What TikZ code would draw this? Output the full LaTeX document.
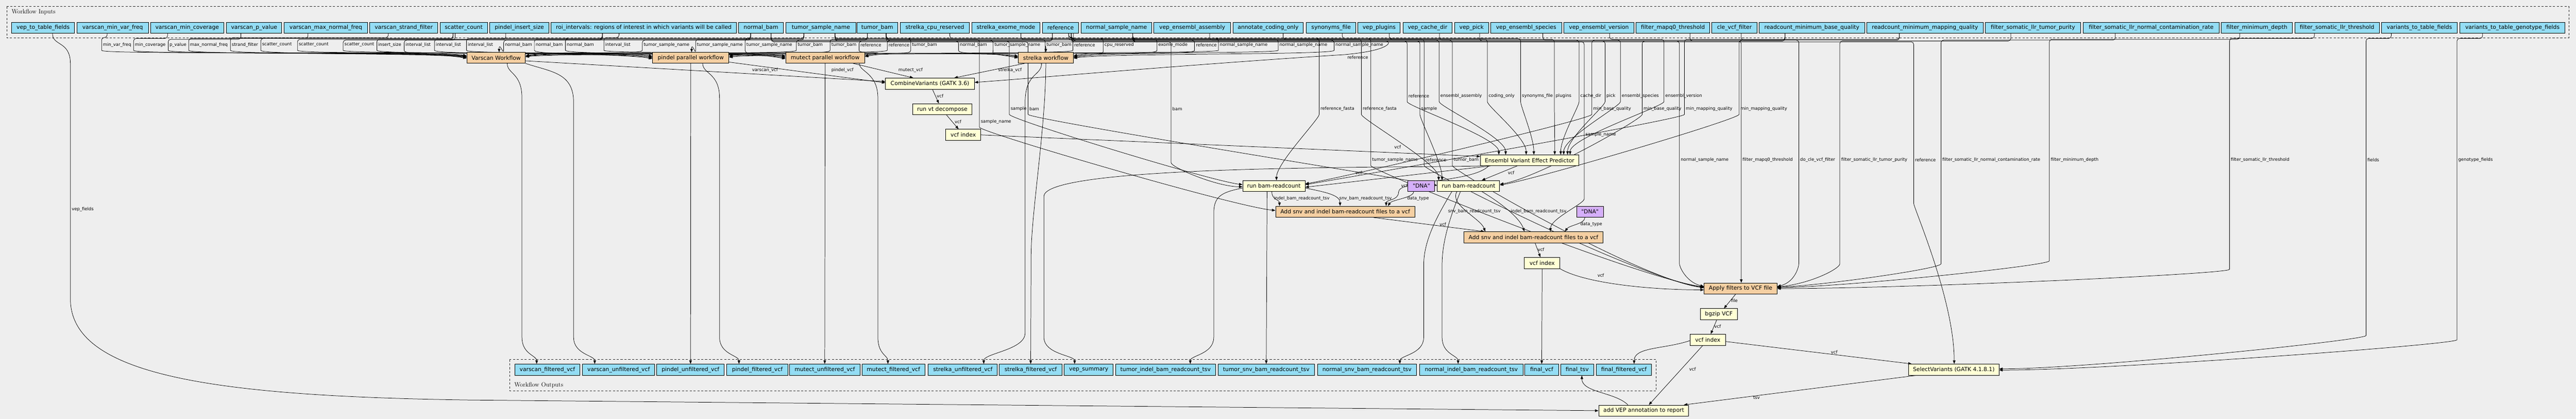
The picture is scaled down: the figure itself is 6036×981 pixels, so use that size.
\documentclass[tikz,border=0pt]{standalone}
\usepackage{fontspec}
\usetikzlibrary{arrows.meta}
\newfontfamily\dvs{DejaVu Sans}
\newcommand\nodefont{\dvs\fontsize{13}{15}\selectfont}
\newcommand\elabfont{\dvs\fontsize{10.2}{12}\selectfont}
\newcommand\clfont{\rmfamily\fontsize{14.5}{17}\selectfont}
\definecolor{bgc}{RGB}{238,238,238}
\definecolor{inc}{RGB}{148,221,245}
\definecolor{subc}{RGB}{245,207,162}
\definecolor{toolc}{RGB}{255,255,213}
\definecolor{dnac}{RGB}{213,175,250}
\pgfdeclarelayer{bg}\pgfdeclarelayer{edges}\pgfsetlayers{bg,edges,main}
\tikzset{
  box/.style={draw=black, line width=1.2pt, inner sep=0pt, font=\nodefont, anchor=center},
  inp/.style={box, fill=inc},
  sub/.style={box, fill=subc},
  tool/.style={box, fill=toolc},
  dna/.style={box, fill=dnac},
  elab/.style={anchor=west, inner sep=0pt, font=\elabfont},
  conn/.style={draw=black, line width=0.9pt, -{Triangle[length=8pt,width=6pt]}},
  clus/.style={draw=black!85, line width=1.1pt, dash pattern=on 5pt off 4pt},
}
\newcommand\mkbox[7]{\node[#1, minimum width={(#4-#3)*1pt}, minimum height={(#6-#5)*1pt}] (#2) at ({(#3+#4)/2},{(#5+#6)/2}) {#7};}
\newcommand\inedgeV[9]{%
\begin{pgfonlayer}{edges}
\draw[conn] ([xshift=#2pt]#1.south) [rounded corners=6pt] |- (#4,#3) -- (#4,#9) [sharp corners] .. controls (#4,#9+17) and +(#8) .. (#7);
\end{pgfonlayer}
\node[elab] at (#4+3,#5) {#6};}
\newcommand\inedge[8]{\inedgeV{#1}{#2}{#3}{#4}{#5}{#6}{#7}{#8}{#5+7}}
\begin{document}
\begin{tikzpicture}[x=1pt,y=-1pt]
\useasboundingbox (0,0) rectangle (6036,981);
\begin{pgfonlayer}{bg}
\fill[bgc] (0,0) rectangle (6036,981);
\draw[clus] (16,15) rectangle (6019,89);
\draw[clus] (1195,842) rectangle (3881,916);
\end{pgfonlayer}
\node[anchor=west, inner sep=0pt, font=\clfont] (cin) at (27,28) {Workflow Inputs};
\node[anchor=west, inner sep=0pt, font=\clfont] (cout) at (1205,902) {Workflow Outputs};
% inputs
\mkbox{inp}{in1}{27}{175}{52}{78}{vep\_to\_table\_fields}
\mkbox{inp}{in2}{180}{348}{52}{78}{varscan\_min\_var\_freq}
\mkbox{inp}{in3}{353}{524}{52}{78}{varscan\_min\_coverage}
\mkbox{inp}{in4}{531}{660}{52}{78}{varscan\_p\_value}
\mkbox{inp}{in5}{666}{861}{52}{78}{varscan\_max\_normal\_freq}
\mkbox{inp}{in6}{866}{1026}{52}{78}{varscan\_strand\_filter}
\mkbox{inp}{in7}{1031}{1142}{52}{78}{scatter\_count}
\mkbox{inp}{in8}{1148}{1286}{52}{78}{pindel\_insert\_size}
\mkbox{inp}{in9}{1291}{1726}{52}{78}{roi\_intervals: regions of interest in which variants will be called}
\mkbox{inp}{in10}{1731}{1835}{52}{78}{normal\_bam}
\mkbox{inp}{in11}{1841}{2006}{52}{78}{tumor\_sample\_name}
\mkbox{inp}{in12}{2008}{2103}{52}{78}{tumor\_bam}
\mkbox{inp}{in13}{2110}{2271}{52}{78}{strelka\_cpu\_reserved}
\mkbox{inp}{in14}{2277}{2437}{52}{78}{strelka\_exome\_mode}
\mkbox{inp}{in15}{2443}{2527}{52}{78}{reference}
\mkbox{inp}{in16}{2533}{2699}{52}{78}{normal\_sample\_name}
\mkbox{inp}{in17}{2704}{2883}{52}{78}{vep\_ensembl\_assembly}
\mkbox{inp}{in18}{2889}{3054}{52}{78}{annotate\_coding\_only}
\mkbox{inp}{in19}{3061}{3177}{52}{78}{synonyms\_file}
\mkbox{inp}{in20}{3182}{3281}{52}{78}{vep\_plugins}
\mkbox{inp}{in21}{3288}{3402}{52}{78}{vep\_cache\_dir}
\mkbox{inp}{in22}{3408}{3488}{52}{78}{vep\_pick}
\mkbox{inp}{in23}{3493}{3659}{52}{78}{vep\_ensembl\_species}
\mkbox{inp}{in24}{3665}{3828}{52}{78}{vep\_ensembl\_version}
\mkbox{inp}{in25}{3834}{4006}{52}{78}{filter\_mapq0\_threshold}
\mkbox{inp}{in26}{4011}{4117}{52}{78}{cle\_vcf\_filter}
\mkbox{inp}{in27}{4122}{4369}{52}{78}{readcount\_minimum\_base\_quality}
\mkbox{inp}{in28}{4374}{4647}{52}{78}{readcount\_minimum\_mapping\_quality}
\mkbox{inp}{in29}{4652}{4875}{52}{78}{filter\_somatic\_llr\_tumor\_purity}
\mkbox{inp}{in30}{4881}{5200}{52}{78}{filter\_somatic\_llr\_normal\_contamination\_rate}
\mkbox{inp}{in31}{5205}{5371}{52}{78}{filter\_minimum\_depth}
\mkbox{inp}{in32}{5377}{5575}{52}{78}{filter\_somatic\_llr\_threshold}
\mkbox{inp}{in33}{5580}{5758}{52}{78}{variants\_to\_table\_fields}
\mkbox{inp}{in34}{5764}{6010}{52}{78}{variants\_to\_table\_genotype\_fields}
% steps
\mkbox{sub}{vs}{1094}{1231}{123}{148}{Varscan Workflow}
\mkbox{sub}{pi}{1529}{1708}{123}{148}{pindel parallel workflow}
\mkbox{sub}{mu}{1841}{2026}{123}{148}{mutect parallel workflow}
\mkbox{sub}{st}{2386}{2515}{123}{148}{strelka workflow}
\mkbox{tool}{cb}{2075}{2283}{183}{209}{CombineVariants (GATK 3.6)}
\mkbox{tool}{vt}{2139}{2277}{243}{269}{run vt decompose}
\mkbox{tool}{vi1}{2216}{2298}{303}{329}{vcf index}
\mkbox{tool}{vep}{3469}{3699}{363}{388}{Ensembl Variant Effect Predictor}
\mkbox{tool}{brc1}{2912}{3058}{423}{448}{run bam-readcount}
\mkbox{dna}{dna1}{3299}{3362}{423}{448}{"DNA"}
\mkbox{tool}{brc2}{3368}{3514}{423}{448}{run bam-readcount}
\mkbox{sub}{add1}{2989}{3315}{483}{509}{Add snv and indel bam-readcount files to a vcf}
\mkbox{dna}{dna2}{3694}{3757}{483}{509}{"DNA"}
\mkbox{sub}{add2}{3430}{3756}{543}{569}{Add snv and indel bam-readcount files to a vcf}
\mkbox{tool}{vi2}{3572}{3655}{603}{629}{vcf index}
\mkbox{sub}{ap}{3993}{4164}{663}{689}{Apply filters to VCF file}
\mkbox{tool}{bgz}{3984}{4071}{723}{749}{bgzip VCF}
\mkbox{tool}{vi3}{3960}{4043}{783}{809}{vcf index}
\mkbox{tool}{sel}{4472}{4684}{853}{879}{SelectVariants (GATK 4.1.8.1)}
\mkbox{tool}{av}{3746}{3957}{949}{975}{add VEP annotation to report}
% outputs
\mkbox{inp}{o1}{1206}{1359}{853}{879}{varscan\_filtered\_vcf}
\mkbox{inp}{o2}{1365}{1534}{853}{879}{varscan\_unfiltered\_vcf}
\mkbox{inp}{o3}{1539}{1697}{853}{879}{pindel\_unfiltered\_vcf}
\mkbox{inp}{o4}{1703}{1846}{853}{879}{pindel\_filtered\_vcf}
\mkbox{inp}{o5}{1850}{2015}{853}{879}{mutect\_unfiltered\_vcf}
\mkbox{inp}{o6}{2020}{2167}{853}{879}{mutect\_filtered\_vcf}
\mkbox{inp}{o7}{2175}{2337}{853}{879}{strelka\_unfiltered\_vcf}
\mkbox{inp}{o8}{2341}{2489}{853}{879}{strelka\_filtered\_vcf}
\mkbox{inp}{o9}{2494}{2608}{853}{879}{vep\_summary}
\mkbox{inp}{o10}{2614}{2848}{853}{879}{tumor\_indel\_bam\_readcount\_tsv}
\mkbox{inp}{o11}{2854}{3080}{853}{879}{tumor\_snv\_bam\_readcount\_tsv}
\mkbox{inp}{o12}{3087}{3319}{853}{879}{normal\_snv\_bam\_readcount\_tsv}
\mkbox{inp}{o13}{3326}{3569}{853}{879}{normal\_indel\_bam\_readcount\_tsv}
\mkbox{inp}{o14}{3573}{3652}{853}{879}{final\_vcf}
\mkbox{inp}{o15}{3657}{3734}{853}{879}{final\_tsv}
\mkbox{inp}{o16}{3740}{3870}{853}{879}{final\_filtered\_vcf}
% input edges to workflows
\inedge{in2}{-13}{88}{238}{105}{min\_var\_freq}{[yshift=5pt]vs.west}{-70,-12}
\inedge{in3}{-46}{90}{313}{105}{min\_coverage}{[yshift=4pt]vs.west}{-70,-12}
\inedge{in4}{-31}{92}{394}{105}{p\_value}{[yshift=3pt]vs.west}{-70,-12}
\inedge{in5}{-42}{90}{442}{105}{max\_normal\_freq}{[yshift=2pt]vs.west}{-70,-12}
\inedge{in6}{-36}{88}{540}{105}{strand\_filter}{[yshift=1pt]vs.west}{-70,-12}
\inedge{in7}{-25}{90}{611}{105}{scatter\_count}{[yshift=0pt]vs.west}{-70,-12}
\inedge{in7}{-25}{92}{697}{105}{scatter\_count}{[yshift=4pt]pi.west}{-70,-12}
\inedge{in7}{-20}{94}{804}{105}{scatter\_count}{[yshift=4pt]mu.west}{-70,-12}
\inedge{in8}{-32}{92}{883}{105}{insert\_size}{[yshift=2pt]pi.west}{-70,-12}
\inedge{in9}{-97}{94}{947}{105}{interval\_list}{[yshift=-1pt]vs.west}{-70,-12}
\inedge{in9}{-97}{92}{1018}{105}{interval\_list}{[yshift=0pt]pi.west}{-70,-12}
\inedge{in9}{-97}{90}{1093}{105}{interval\_list}{[yshift=2pt]mu.west}{-70,-12}
\inedge{in10}{-24}{94}{1180}{105}{normal\_bam}{[xshift=7pt]vs.north}{0,-25}
\inedge{in10}{-24}{92}{1252}{105}{normal\_bam}{[yshift=-2pt]pi.west}{-70,-12}
\inedge{in10}{-24}{90}{1325}{105}{normal\_bam}{[yshift=0pt]mu.west}{-70,-12}
\inedge{in9}{-58}{88}{1415}{105}{interval\_list}{[yshift=4pt]st.west}{-70,-12}
\inedge{in11}{-40}{94}{1505}{105}{tumor\_sample\_name}{[yshift=5pt]vs.east}{70,-12}
\inedge{in11}{-40}{92}{1630}{105}{tumor\_sample\_name}{[xshift=2pt]pi.north}{0,-25}
\inedge{in11}{-40}{90}{1746}{105}{tumor\_sample\_name}{[yshift=-2pt]mu.west}{-70,-12}
\inedge{in12}{-23}{94}{1866}{105}{tumor\_bam}{[yshift=4pt]vs.east}{70,-12}
\inedge{in12}{-23}{92}{1945}{105}{tumor\_bam}{[yshift=5pt]pi.east}{70,-12}
\inedge{in15}{-19}{96}{2013}{105}{reference}{[yshift=5pt]mu.east}{70,-12}
\inedge{in15}{-19}{94}{2079}{105}{reference}{[yshift=3pt]vs.east}{70,-12}
\inedge{in12}{21}{90}{2134}{105}{tumor\_bam}{[yshift=3pt]mu.east}{70,-12}
\inedge{in10}{24}{96}{2246}{105}{normal\_bam}{[yshift=2pt]st.west}{-70,-12}
\inedge{in11}{33}{94}{2327}{105}{tumor\_sample\_name}{[yshift=0pt]st.west}{-70,-12}
\inedge{in12}{21}{92}{2449}{105}{tumor\_bam}{st.north}{0,-25}
\inedge{in15}{19}{88}{2514}{105}{reference}{[yshift=3pt]pi.east}{70,-12}
\inedge{in13}{35}{90}{2585}{105}{cpu\_reserved}{[yshift=5pt]st.east}{70,-12}
\inedge{in14}{35}{92}{2711}{105}{exome\_mode}{[yshift=3pt]st.east}{70,-12}
\inedge{in15}{19}{94}{2799}{105}{reference}{[yshift=1pt]st.east}{70,-12}
\inedge{in16}{38}{90}{2855}{105}{normal\_sample\_name}{[yshift=2pt]vs.east}{70,-12}
\inedge{in16}{38}{92}{2995}{105}{normal\_sample\_name}{[yshift=1pt]pi.east}{70,-12}
\inedge{in16}{38}{94}{3126}{105}{normal\_sample\_name}{[yshift=-1pt]st.east}{70,-12}
% VEP inputs
\inedge{in15}{25}{96}{3297}{225}{reference}{[xshift=-72pt]vep.north}{0,-40}
\inedge{in17}{41}{94}{3372}{225}{ensembl\_assembly}{[xshift=-56pt]vep.north}{0,-40}
\inedge{in18}{35}{92}{3485}{225}{coding\_only}{[xshift=-8pt]vep.north}{0,-40}
\inedge{in19}{26}{90}{3563}{225}{synonyms\_file}{[xshift=10pt]vep.north}{0,-40}
\inedge{in20}{24}{92}{3642}{225}{plugins}{[xshift=59pt]vep.north}{0,-40}
\inedge{in21}{28}{94}{3700}{225}{cache\_dir}{[xshift=73pt]vep.north}{0,-40}
\inedge{in22}{19}{96}{3761}{225}{pick}{[xshift=89pt]vep.north}{0,-40}
\inedge{in23}{39}{94}{3797}{225}{ensembl\_species}{[xshift=80pt]vep.north}{0,-40}
\inedge{in24}{25}{92}{3899}{225}{ensembl\_version}{[xshift=95pt]vep.north}{0,-40}
% bam-readcount inputs
\inedgeV{in12}{21}{98}{2744}{255}{bam}{[yshift=-2pt]brc1.west}{-60,0}{375}
\inedge{in11}{33}{96}{2365}{255}{sample}{[yshift=3pt]brc1.west}{-80,-10}
\inedge{in10}{24}{98}{2409}{255}{bam}{[yshift=1pt]brc2.west}{-80,-15}
\inedge{in15}{25}{90}{3091}{255}{reference\_fasta}{[xshift=6pt]brc1.north}{0,-40}
\inedge{in15}{25}{92}{3190}{255}{reference\_fasta}{[xshift=-70pt]brc2.north}{0,-40}
\inedge{in16}{38}{96}{3327}{255}{sample}{[xshift=-62pt]brc2.north}{0,-40}
\inedge{in27}{-63}{94}{3730}{255}{min\_base\_quality}{[yshift=5pt]brc1.east}{90,-15}
\inedge{in27}{-63}{96}{3848}{255}{min\_base\_quality}{[yshift=4pt]brc2.east}{90,-15}
\inedge{in28}{-60}{92}{3947}{255}{min\_mapping\_quality}{[yshift=3pt]brc1.east}{90,-15}
\inedge{in28}{-60}{94}{4075}{255}{min\_mapping\_quality}{[yshift=2pt]brc2.east}{90,-15}
% sample names for add readcount
\inedge{in11}{33}{92}{2295}{285}{sample\_name}{[yshift=3pt]add1.west}{-100,-10}
\inedgeV{in16}{38}{98}{3712}{315}{sample\_name}{[xshift=40pt]add2.north}{0,-30}{460}
% filter inputs
\inedge{in11}{33}{90}{3212}{375}{tumor\_sample\_name}{[yshift=4pt]ap.west}{-150,-20}
\inedge{in15}{25}{92}{3337}{375}{reference}{[yshift=3pt]ap.west}{-150,-20}
\inedge{in12}{21}{94}{3403}{375}{tumor\_bam}{[yshift=2pt]ap.west}{-150,-20}
\inedgeV{in16}{38}{96}{3935}{375}{normal\_sample\_name}{[yshift=5pt]ap.west}{-40,-10}{610}
\inedge{in25}{40}{96}{4080}{375}{filter\_mapq0\_threshold}{[xshift=1.5pt]ap.north}{0,-40}
\inedgeV{in26}{16}{94}{4215}{375}{do\_cle\_vcf\_filter}{[yshift=5pt]ap.east}{40,-10}{610}
\inedgeV{in29}{-52}{96}{4311}{375}{filter\_somatic\_llr\_tumor\_purity}{[yshift=4pt]ap.east}{80,-8}{612}
\inedgeV{in15}{25}{98}{4484}{375}{reference}{[xshift=1pt]sel.north}{0,-150}{470}
\inedgeV{in30}{-84}{94}{4548}{375}{filter\_somatic\_llr\_normal\_contamination\_rate}{[yshift=3pt]ap.east}{120,-6}{612}
\inedgeV{in31}{-40}{92}{4802}{375}{filter\_minimum\_depth}{[yshift=2pt]ap.east}{180,-4}{605}
\inedgeV{in32}{-53}{90}{5224}{375}{filter\_somatic\_llr\_threshold}{[yshift=0pt]ap.east}{300,0}{625}
\inedgeV{in33}{-66}{90}{5544}{375}{fields}{[yshift=2pt]sel.east}{200,0}{780}
\inedgeV{in34}{-70}{90}{5757}{375}{genotype\_fields}{[yshift=-1pt]sel.east}{250,0}{790}
% internal edges
\begin{pgfonlayer}{edges}
\draw[conn] ([yshift=-7pt]vs.east) -- ([yshift=5pt]cb.west);
\draw[conn] ([yshift=-10pt]pi.east) -- ([yshift=2pt]cb.west);
\draw[conn] ([xshift=66pt]mu.south) -- ([xshift=-39pt]cb.north);
\draw[conn] ([xshift=-50pt]st.south) -- ([xshift=57pt]cb.north);
\draw[conn] ([xshift=30pt]in15.south) [rounded corners=6pt] |- (3240,96) [sharp corners] .. controls (3262,96) and (3262,118) .. (3150,128) .. controls (2800,150) and (2400,185) .. ([yshift=3pt]cb.east);
\draw[conn] ([xshift=6pt]cb.south) -- ([xshift=-8pt]vt.north);
\draw[conn] ([xshift=10pt]vt.south) -- ([xshift=-11pt]vi1.north);
\draw[conn] (vi1.east) -- ([yshift=-4pt]vep.north west);
\draw[conn] ([xshift=24pt]vep.south west) -- ([yshift=-3pt]brc1.east);
\draw[conn] ([xshift=-29pt]vep.south) -- ([xshift=31pt]brc2.north);
\draw[conn] ([xshift=20pt]vep.south west) .. controls +(-40,40) and (3277,420) .. (3277,450) .. controls (3277,470) and +(0,-15) .. ([xshift=96pt]add1.north);
\draw[conn] ([xshift=-5pt]brc1.south) .. controls +(0,20) and +(0,-15) .. ([xshift=-154pt]add1.north);
\draw[conn] ([yshift=-5pt]brc1.east) .. controls +(50,10) and +(0,-25) .. ([xshift=-12pt]add1.north);
\draw[conn] ([xshift=-18pt]dna1.south) .. controls +(0,15) and +(10,-15) .. ([xshift=100pt]add1.north);
\draw[conn] ([xshift=-27pt]brc2.south) .. controls +(-20,30) and +(-10,-30) .. ([xshift=-113pt]add2.north);
\draw[conn] ([xshift=31pt]brc2.south) .. controls +(50,30) and +(-10,-30) .. ([xshift=-21pt]add2.north);
\draw[conn] ([xshift=-12pt]dna2.south) .. controls +(0,15) and +(10,-15) .. ([xshift=74pt]add2.north);
\draw[conn] ([xshift=67pt]add1.south) -- ([xshift=-115pt]add2.north);
\draw[conn] ([xshift=4pt]add2.south) -- ([xshift=-4pt]vi2.north);
\draw[conn] (vi2.south) -- (o14.north);
\draw[conn] (vi2.south east) .. controls +(60,35) and +(-120,0) .. ([yshift=-3pt]ap.west);
\draw[conn] ([xshift=-12pt]ap.south) -- ([xshift=12pt]bgz.north);
\draw[conn] ([xshift=-5pt]bgz.south) -- ([xshift=7pt]vi3.north);
\draw[conn] ([yshift=-2pt]vi3.west) .. controls +(-60,20) and +(0,-40) .. ([xshift=24pt]o16.north);
\draw[conn] ([xshift=-12pt]vi3.south) -- ([xshift=12pt]av.north);
\draw[conn] ([yshift=-4pt]vi3.east) -- ([xshift=8pt]sel.north west);
\draw[conn] ([xshift=-90pt]sel.south) -- ([xshift=94pt]av.north);
\draw[conn] ([xshift=-37pt]av.north) .. controls +(-30,-30) and +(0,40) .. ([xshift=11pt]o15.south);
\draw[conn] ([xshift=22pt]in1.south) .. controls +(0,30) and (165,95) .. (165,150) -- (165,700) .. controls (165,880) and (500,928) .. (1100,937) -- (av.west);
% subworkflow outputs
\draw[conn] ([xshift=26pt]vs.south) .. controls +(0,25) and (1223,170) .. (1223,230) -- (1223,790) .. controls (1223,830) and +(0,-20) .. ([xshift=-25pt]o1.north);
\draw[conn] (vs.south east) .. controls +(60,20) and (1344,170) .. (1344,240) -- (1344,790) .. controls (1344,830) and +(0,-20) .. ([xshift=-56pt]o2.north);
\draw[conn] (pi.south) -- (o3.north);
\draw[conn] ([xshift=28pt]pi.south) .. controls +(0,25) and (1686,170) .. (1686,230) -- (1686,790) .. controls (1686,830) and +(0,-20) .. ([xshift=-43pt]o4.north);
\draw[conn] (mu.south) -- (o5.north);
\draw[conn] ([xshift=80pt]mu.south) .. controls +(0,20) and (2057,170) .. (2057,230) -- (2057,790) .. controls (2057,830) and +(0,-20) .. ([xshift=-13pt]o6.north);
\draw[conn] ([xshift=-10pt]st.south) .. controls +(0,30) and (2402,170) .. (2402,240) -- (2402,780) .. controls (2402,820) and +(0,-25) .. ([xshift=49pt]o7.north);
\draw[conn] (st.south) .. controls +(0,150) and (2416,500) .. (2416,600) -- (o8.north);
\draw[conn] ([xshift=6pt]vep.south west) .. controls +(-200,5) and (2446,385) .. (2446,460) -- (2446,790) .. controls (2446,830) and +(0,-20) .. ([xshift=-33pt]o9.north);
\draw[conn] ([yshift=-5pt]brc1.west) .. controls +(-50,10) and (2844,460) .. (2844,500) -- (2844,790) .. controls (2844,830) and +(0,-20) .. ([xshift=58pt]o10.north);
\draw[conn] ([xshift=-16pt]brc1.south) -- (o11.north);
\draw[conn] ([xshift=-39pt]brc2.south) .. controls +(-30,50) and (3336,560) .. (3336,620) -- (3336,790) .. controls (3336,830) and +(0,-20) .. ([xshift=77pt]o12.north);
\draw[conn] ([xshift=-19pt]brc2.south) .. controls +(-20,50) and (3379,560) .. (3379,620) -- (3379,790) .. controls (3379,830) and +(0,-20) .. ([xshift=-31pt]o13.north);
\end{pgfonlayer}
% internal labels
\node[elab] (l1) at (1762,165) {varscan\_vcf};
\node[elab] (l2) at (1948,165) {pindel\_vcf};
\node[elab] (l3) at (2105,165) {mutect\_vcf};
\node[elab] (l4) at (2339,165) {strelka\_vcf};
\node[elab] (l5) at (3157,135) {reference};
\node[elab] (l6) at (2195,225) {vcf};
\node[elab] (l7) at (2237,285) {vcf};
\node[elab] (l8) at (3267,345) {vcf};
\node[elab] (l9) at (3176,405) {vcf};
\node[elab] (l10) at (3533,405) {vcf};
\node[elab] (l11) at (3283,435) {vcf};
\node[elab] (l12) at (2985,465) {indel\_bam\_readcount\_tsv};
\node[elab] (l13) at (3138,465) {snv\_bam\_readcount\_tsv};
\node[elab] (l14) at (3297,465) {data\_type};
\node[elab] (l15) at (3393,495) {snv\_bam\_readcount\_tsv};
\node[elab] (l16) at (3540,495) {indel\_bam\_readcount\_tsv};
\node[elab] (l17) at (3703,525) {data\_type};
\node[elab] (l18) at (3373,525) {vcf};
\node[elab] (l19) at (3603,585) {vcf};
\node[elab] (l20) at (3743,645) {vcf};
\node[elab] (l21) at (4056,704) {file};
\node[elab] (l22) at (4017,764) {vcf};
\node[elab] (l23) at (4290,825) {vcf};
\node[elab] (l24) at (3958,865) {vcf};
\node[elab] (l25) at (4108,931) {tsv};
\node[elab] (l26) at (168,490) {vep\_fields};
\end{tikzpicture}
\end{document}
